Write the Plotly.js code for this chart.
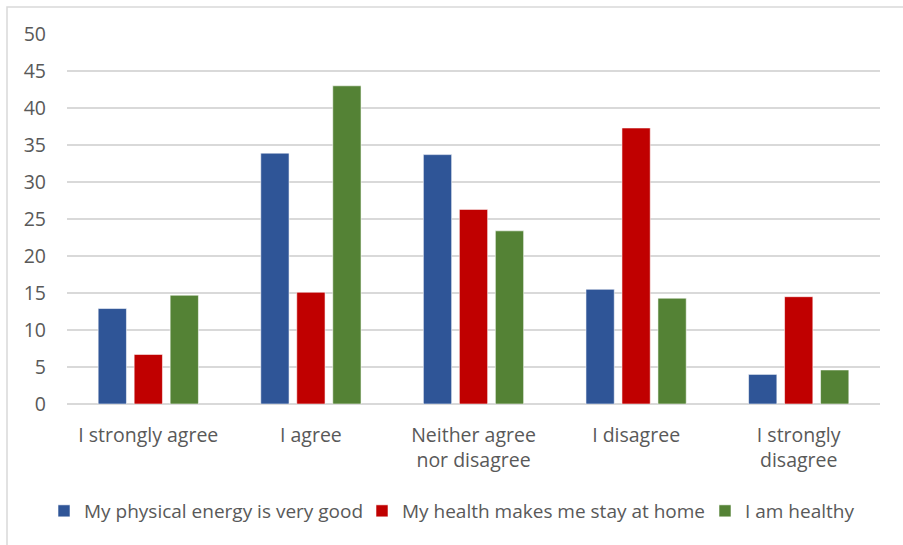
<!DOCTYPE html>
<html>
<head>
<meta charset="utf-8">
<script src="https://cdn.plot.ly/plotly-3.0.1.min.js"></script>
<style>
  html, body { margin: 0; padding: 0; background: #fff; }
  #chart { width: 903px; height: 545px; }
</style>
</head>
<body>
<div id="chart"></div>
<script>
// Survey answers (percent of respondents) for three statements
const categories = [
  "I strongly agree",
  "I agree",
  "Neither agree<br>nor disagree",
  "I disagree",
  "I strongly<br>disagree"
];
const seriesNames = [
  "My physical energy is very good",
  "My health makes me stay at home",
  "I am healthy"
];
const physicalEnergy = [12.9, 33.9, 33.7, 15.5, 4.0];
const healthKeepsHome = [6.7, 15.1, 26.3, 37.3, 14.5];
const amHealthy = [14.7, 43.0, 23.4, 14.3, 4.6];
const yTicks = [0, 5, 10, 15, 20, 25, 30, 35, 40, 45, 50];

const colors = ["#2F5597", "#C00000", "#548235"];
const values = [physicalEnergy, healthKeepsHome, amHealthy];
const legendIds = ["legend", "legend2", "legend3"];

const FONT = "'Open Sans', 'Noto Sans', sans-serif";
const FS = 19.5;
const LEGEND_FS = 19;
const TEXT = "#595959";

const traces = values.map((v, i) => ({
  type: "bar",
  name: seriesNames[i],
  legend: legendIds[i],
  x: categories,
  y: v,
  marker: { color: colors[i], line: { color: "rgba(255,255,255,0.7)", width: 0.8 } },
  hoverinfo: "x+y+name"
}));

// The whole figure is the paper; plot area placed with axis domains (pixels -> paper)
const W = 903, H = 545;
const fx = x => x / W;
const fy = y => 1 - y / H;

// one legend box per series, laid out in a single row under the chart
const legendLeft = [44, 362, 705];
function legendAt(x) {
  return {
    orientation: "h",
    xref: "paper", yref: "paper",
    x: fx(x), xanchor: "left",
    y: fy(511), yanchor: "middle",
    bgcolor: "rgba(0,0,0,0)",
    font: { family: FONT, size: LEGEND_FS, color: TEXT },
    itemclick: false
  };
}

const layout = {
  width: W,
  height: H,
  margin: { l: 0, r: 0, t: 0, b: 0 },
  paper_bgcolor: "#ffffff",
  plot_bgcolor: "#ffffff",
  font: { family: FONT, size: FS, color: TEXT },
  barmode: "group",
  bargap: 0.336,
  bargroupgap: 0.214,
  showlegend: true,
  legend: legendAt(legendLeft[0]),
  legend2: legendAt(legendLeft[1]),
  legend3: legendAt(legendLeft[2]),
  xaxis: {
    type: "category",
    domain: [fx(67), fx(880)],
    showgrid: false,
    showline: false,
    zeroline: false,
    ticks: "",
    tickfont: { family: FONT, size: FS, color: TEXT },
    ticklabelstandoff: 17,
    fixedrange: true
  },
  yaxis: {
    range: [0, 50],
    domain: [fy(404), fy(34)],
    tickvals: yTicks,
    ticktext: yTicks.map(String),
    showgrid: true,
    gridcolor: "#d9d9d9",
    gridwidth: 1.2,
    zeroline: true,
    zerolinecolor: "#d9d9d9",
    zerolinewidth: 1.2,
    showline: false,
    ticks: "",
    tickfont: { family: FONT, size: FS, color: TEXT },
    ticklabelstandoff: 20,
    fixedrange: true
  },
  shapes: [{
    type: "rect",
    xref: "paper", yref: "paper",
    x0: fx(7), x1: fx(915),
    y0: fy(560), y1: fy(7),
    line: { color: "#d9d9d9", width: 1.5 },
    fillcolor: "rgba(0,0,0,0)",
    layer: "below"
  }]
};

Plotly.newPlot("chart", traces, layout, { displayModeBar: false, staticPlot: true });
</script>
</body>
</html>
